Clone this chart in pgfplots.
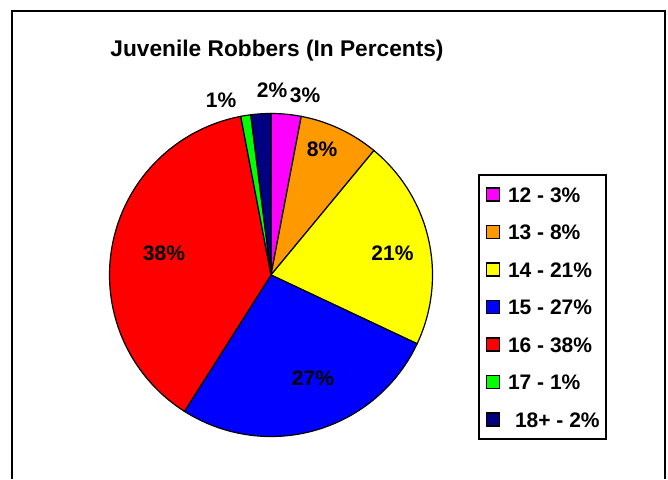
\documentclass[border=0pt]{standalone}
\usepackage{pgfplots}
\pgfplotsset{compat=1.18}
\usepackage{fontspec}
\setmainfont{Liberation Sans}
\definecolor{c12}{HTML}{FF00FF}
\definecolor{c13}{HTML}{FF9900}
\definecolor{c14}{HTML}{FFFF00}
\definecolor{c15}{HTML}{0000FF}
\definecolor{c16}{HTML}{FF0000}
\definecolor{c17}{HTML}{00FF00}
\definecolor{c18}{HTML}{000080}
% percentages (ages 12,13,14,15,16,17,18+)
\def\pA{3}\def\pB{8}\def\pC{21}\def\pD{27}\def\pE{38}\def\pF{1}\def\pG{2}
\pgfmathsetmacro\aA{90}
\pgfmathsetmacro\aB{\aA-3.6*\pA}
\pgfmathsetmacro\aC{\aB-3.6*\pB}
\pgfmathsetmacro\aD{\aC-3.6*\pC}
\pgfmathsetmacro\aE{\aD-3.6*\pD}
\pgfmathsetmacro\aF{\aE-3.6*\pE}
\pgfmathsetmacro\aG{\aF-3.6*\pF}
\pgfmathsetmacro\aH{\aG-3.6*\pG}
\def\cx{271}\def\cy{204}\def\rr{161.5}
\newcommand{\lab}{\fontsize{21}{25}\selectfont\bfseries}
\begin{document}
\begin{tikzpicture}[x=1pt,y=1pt]
\useasboundingbox (0,0) rectangle (668,479);
\begin{axis}[at={(0,0)}, anchor=south west, width=668pt, height=479pt,
  scale only axis, xmin=0, xmax=668, ymin=0, ymax=479, hide axis, clip=false,
  legend style={at={(axis cs:478,305)}, anchor=north west, draw=black,
    line width=2pt, fill=white, inner xsep=6.5pt, inner ysep=12pt,
    row sep=22.5pt, column sep=8pt,
    nodes={inner sep=0pt, text height=15pt, text depth=0pt, font=\lab},
    cells={anchor=west}},
  legend image code/.code={\draw[#1, line width=1.5pt] (0pt,-6.5pt) rectangle (13pt,6.5pt);}
]
\addplot[fill=c12, draw=black, line width=1.2pt, domain=\aB:\aA, samples=30, variable=\t]
  ({\cx+\rr*cos(\t)},{\cy+\rr*sin(\t)}) -- (axis cs:\cx,\cy) -- cycle;
\addlegendentry{12 - 3\%}
\addplot[fill=c13, draw=black, line width=1.2pt, domain=\aC:\aB, samples=40, variable=\t]
  ({\cx+\rr*cos(\t)},{\cy+\rr*sin(\t)}) -- (axis cs:\cx,\cy) -- cycle;
\addlegendentry{13 - 8\%}
\addplot[fill=c14, draw=black, line width=1.2pt, domain=\aD:\aC, samples=80, variable=\t]
  ({\cx+\rr*cos(\t)},{\cy+\rr*sin(\t)}) -- (axis cs:\cx,\cy) -- cycle;
\addlegendentry{14 - 21\%}
\addplot[fill=c15, draw=black, line width=1.2pt, domain=\aE:\aD, samples=100, variable=\t]
  ({\cx+\rr*cos(\t)},{\cy+\rr*sin(\t)}) -- (axis cs:\cx,\cy) -- cycle;
\addlegendentry{15 - 27\%}
\addplot[fill=c16, draw=black, line width=1.2pt, domain=\aF:\aE, samples=130, variable=\t]
  ({\cx+\rr*cos(\t)},{\cy+\rr*sin(\t)}) -- (axis cs:\cx,\cy) -- cycle;
\addlegendentry{16 - 38\%}
\addplot[fill=c17, draw=black, line width=1.2pt, domain=\aG:\aF, samples=10, variable=\t]
  ({\cx+\rr*cos(\t)},{\cy+\rr*sin(\t)}) -- (axis cs:\cx,\cy) -- cycle;
\addlegendentry{17 - 1\%}
\addplot[fill=c18, draw=black, line width=1.2pt, domain=\aH:\aG, samples=15, variable=\t]
  ({\cx+\rr*cos(\t)},{\cy+\rr*sin(\t)}) -- (axis cs:\cx,\cy) -- cycle;
\addlegendentry{\hspace*{7pt}18+ - 2\%}
% slice labels
\node[anchor=base, font=\lab] at (axis cs:164,218) {38\%};
\node[anchor=base, font=\lab] at (axis cs:392.5,218) {21\%};
\node[anchor=base, font=\lab] at (axis cs:313,94) {27\%};
\node[anchor=base, font=\lab] at (axis cs:322,322) {8\%};
\node[anchor=base, font=\lab] at (axis cs:305,376) {3\%};
\node[anchor=base, font=\lab] at (axis cs:272,381) {2\%};
\node[anchor=base, font=\lab] at (axis cs:221,371) {1\%};
% title
\node[anchor=base, font=\fontsize{22.7}{27}\selectfont\bfseries] at (axis cs:277,422) {Juvenile Robbers (In Percents)};
% outer frame
\draw[line width=2.3pt] (axis cs:12.2,0) -- (axis cs:12.2,468) -- (axis cs:664.8,468) -- (axis cs:664.8,0);
\end{axis}
\end{tikzpicture}
\end{document}
